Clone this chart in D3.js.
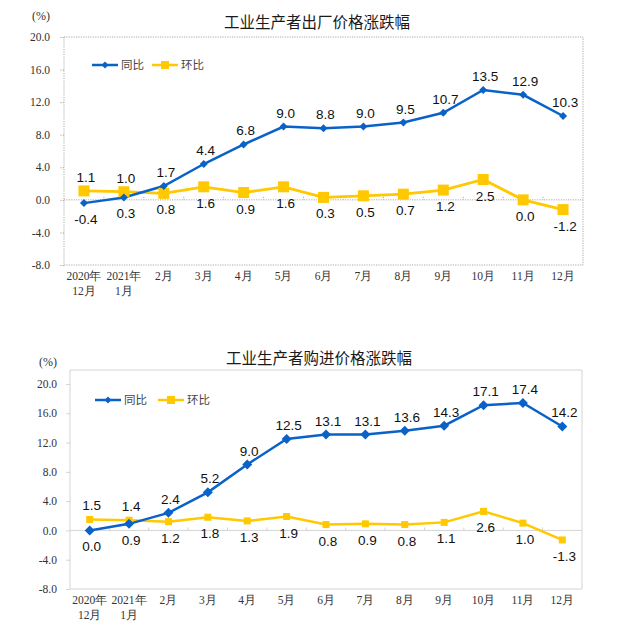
<!DOCTYPE html>
<html><head><meta charset="utf-8">
<script src="https://cdn.jsdelivr.net/npm/d3@7"></script>
<style>
body{margin:0;background:#fff;}
svg{display:block;}
</style></head>
<body>
<script>
// ---- data ----
const categories = [["2020年","12月"],["2021年","1月"],["2月"],["3月"],["4月"],["5月"],["6月"],["7月"],["8月"],["9月"],["10月"],["11月"],["12月"]];
const yTicks = [20.0,16.0,12.0,8.0,4.0,0.0,-4.0,-8.0];
const seriesNames = ["同比","环比"];
const ppiYoY = [-0.4,0.3,1.7,4.4,6.8,9.0,8.8,9.0,9.5,10.7,13.5,12.9,10.3];
const ppiMoM = [1.1,1.0,0.8,1.6,0.9,1.6,0.3,0.5,0.7,1.2,2.5,0.0,-1.2];
const ppirmYoY = [0.0,0.9,2.4,5.2,9.0,12.5,13.1,13.1,13.6,14.3,17.1,17.4,14.2];
const ppirmMoM = [1.5,1.4,1.2,1.8,1.3,1.9,0.8,0.9,0.8,1.1,2.6,1.0,-1.3];
const titles = ["工业生产者出厂价格涨跌幅","工业生产者购进价格涨跌幅"];

const BLUE = "#0a62c8", YELLOW = "#ffc800";
const fmt = d => d.toFixed(1);
const svg = d3.select("body").append("svg").attr("width",630).attr("height",639);

function drawChart(cfg){
  const g = svg.append("g");
  const x = d3.scaleBand().domain(d3.range(categories.length)).range([cfg.left,cfg.right]);
  const y = d3.scaleLinear().domain([-8,20]).range([cfg.yBottom,cfg.yTop]);
  const cx = i => x(i)+x.bandwidth()/2;
  const frameStroke = cfg.dotted ? "#aaa" : "#d4d4d4";
  const dash = cfg.dotted ? "1.2,1.2" : null;

  // frame
  g.append("path").attr("d",`M${cfg.left},${cfg.frameTop}V${cfg.yBottom}H${cfg.right}V${cfg.frameTop}H${cfg.left}`)
    .attr("fill","none").attr("stroke",frameStroke).attr("stroke-width",1).attr("stroke-dasharray",dash);
  // y axis ticks + labels
  const yAxis = d3.axisLeft(y).tickValues(yTicks).tickSize(4).tickPadding(cfg.tickPad).tickFormat(fmt);
  const ya = g.append("g").attr("transform",`translate(${cfg.left},0)`).call(yAxis);
  ya.select(".domain").remove();
  ya.selectAll(".tick line").attr("stroke",frameStroke).attr("stroke-dasharray",dash);
  ya.selectAll(".tick text").attr("font-family","'Liberation Serif','Times New Roman',serif").attr("font-size",11.5).attr("fill","#333");
  // zero line
  g.append("line").attr("x1",cfg.left).attr("x2",cfg.right).attr("y1",y(0)).attr("y2",y(0))
    .attr("stroke",frameStroke).attr("stroke-dasharray",dash);
  // minor ticks on zero line at band boundaries
  g.selectAll(".zt").data(d3.range(1,categories.length)).join("line")
    .attr("x1",i=>x(i)).attr("x2",i=>x(i)).attr("y1",y(0)-3).attr("y2",y(0))
    .attr("stroke",frameStroke).attr("stroke-dasharray",dash);
  // x labels
  const xl = g.selectAll(".xl").data(categories).join("text")
    .attr("x",(d,i)=>cx(i)).attr("y",cfg.xLabelY).attr("text-anchor","middle")
    .attr("font-family","'Liberation Serif','Times New Roman',serif").attr("font-size",11.5).attr("fill","#333");
  xl.each(function(d){
    const t=d3.select(this);
    d.forEach((s,k)=>t.append("tspan").attr("x",t.attr("x")).attr("dy",k?14.5:0).text(s));
  });
  // title
  g.append("text").attr("x",cfg.titleX).attr("y",cfg.titleY).attr("text-anchor","middle")
    .attr("font-family","'Noto Sans CJK SC',sans-serif").attr("font-size",15.5).attr("fill","#1a1a1a").text(cfg.title);
  g.append("text").attr("x",cfg.pctX).attr("y",cfg.pctY).attr("text-anchor","middle")
    .attr("font-family","'Liberation Serif',serif").attr("font-size",12).attr("fill","#333").text("(%)");

  const line = d3.line().x((d,i)=>cx(i)).y(d=>y(d));
  const yoy = cfg.yoy, mom = cfg.mom;
  // lines
  g.append("path").datum(mom).attr("d",line).attr("fill","none").attr("stroke",YELLOW).attr("stroke-width",cfg.momW);
  g.append("path").datum(yoy).attr("d",line).attr("fill","none").attr("stroke",BLUE).attr("stroke-width",cfg.yoyW);
  // markers
  const sq = cfg.sq, dm = cfg.dm;
  g.selectAll(".sq").data(mom).join("rect").attr("x",(d,i)=>cx(i)-sq/2).attr("y",d=>y(d)-sq/2)
    .attr("width",sq).attr("height",sq).attr("fill",YELLOW);
  g.selectAll(".dm").data(yoy).join("path")
    .attr("d",(d,i)=>`M${cx(i)},${y(d)-dm/2}L${cx(i)+dm/2},${y(d)}L${cx(i)},${y(d)+dm/2}L${cx(i)-dm/2},${y(d)}Z`)
    .attr("fill",BLUE);
  // data labels: higher series above, lower below
  const lab = (arr,other) => g.selectAll(null).data(arr).join("text")
    .attr("x",(d,i)=>cx(i)+2).attr("text-anchor","middle")
    .attr("y",(d,i)=> d>other[i] ? y(d)-cfg.above : y(d)+cfg.below)
    .attr("font-family","'Liberation Sans',Arial,sans-serif").attr("font-size",13.5).attr("fill","#111")
    .text(fmt);
  lab(yoy,mom); lab(mom,yoy);

  // legend
  const L = cfg.legend;
  const lg = g.append("g");
  [[BLUE,0],[YELLOW,1]].forEach(([c,k])=>{
    const x0 = L.x + k*L.step;
    lg.append("line").attr("x1",x0).attr("x2",x0+26).attr("y1",L.y).attr("y2",L.y).attr("stroke",c).attr("stroke-width",2.5);
    if(k===0) lg.append("path").attr("d",`M${x0+13},${L.y-3.5}L${x0+16.5},${L.y}L${x0+13},${L.y+3.5}L${x0+9.5},${L.y}Z`).attr("fill",c);
    else lg.append("rect").attr("x",x0+9).attr("y",L.y-4).attr("width",8).attr("height",8).attr("fill",c);
    lg.append("text").attr("x",x0+29).attr("y",L.y+4).attr("font-family","'Noto Sans CJK SC',sans-serif")
      .attr("font-size",11.5).attr("fill","#444").text(seriesNames[k]);
  });
}

drawChart({title:titles[0],yoy:ppiYoY,mom:ppiMoM,left:64,right:583,yTop:37,yBottom:265,frameTop:37,
  dotted:true,tickPad:10,xLabelY:280,titleX:317,titleY:28,pctX:41,pctY:20,
  yoyW:2.5,momW:2.8,sq:11,dm:8,above:9,below:21,legend:{x:92,y:65,step:60}});
drawChart({title:titles[1],yoy:ppirmYoY,mom:ppirmMoM,left:70,right:582,yTop:384,yBottom:589,frameTop:370,
  dotted:false,tickPad:9,xLabelY:604,titleX:319,titleY:364,pctX:48,pctY:366,
  yoyW:2.5,momW:2.5,sq:7,dm:10,above:9,below:21,legend:{x:95,y:400,step:63}});
</script>
</body></html>
